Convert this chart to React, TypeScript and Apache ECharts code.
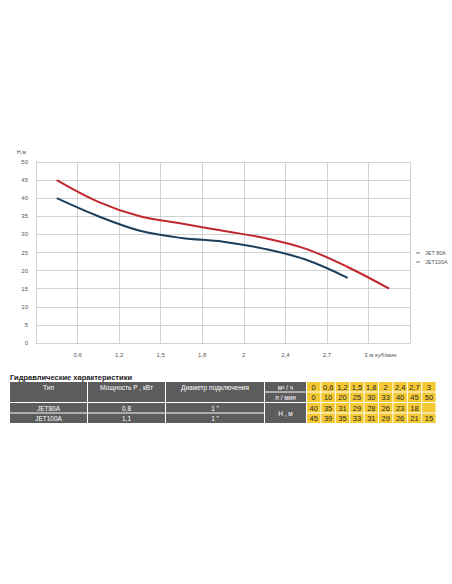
import React, { useEffect, useRef } from 'react';
import * as echarts from 'echarts';

const flowM3h = ['0', '0,6', '1,2', '1,5', '1,8', '2', '2,4', '2,7', '3'];
const flowLmin = ['0', '10', '20', '25', '30', '33', '40', '45', '50'];
const headJet80 = [40, 35, 31, 29, 28, 26, 23, 18];
const headJet100 = [45, 39, 35, 33, 31, 29, 26, 21, 15];
const seriesNames = ['JET 80A', 'JET100A'];
const models = ['JET80A', 'JET100A'];
const powers = ['0,8', '1,1'];
const diameters = ['1 "', '1 "'];
const headerCols = ['Тип', 'Мощность Р , кВт', 'Диаметр подключения'];
const rowLabels = ['м³ / ч', 'л / мин', 'Н , м'];
const tableTitle = 'Гидравлические характеристики';
const flowUnit = ' м куб/мин';
const yName = 'H,м';

const FONT = '"Liberation Sans Narrow","Liberation Sans",Arial,sans-serif';
const GRAY = '#5c5c5c';
const YELLOW = '#f3c832';

function buildTable(): any[] {
  const els: any[] = [];
  const colX = [10, 88, 166];
  const colW = [77, 77, 98];
  const labX = 265;
  const labW = 41;
  const cellX0 = 307;
  const cellW = 14.4;
  const rowY = [382, 392.5, 403, 413.5];
  const rowH = 9.5;
  const txt = (x: number, y: number, text: string, fill: string, size: number, bold = false) => ({
    type: 'text',
    x,
    y,
    style: { text, fill, fontSize: size, fontFamily: FONT, fontWeight: bold ? 'bold' : 'normal', align: 'center', verticalAlign: 'middle' },
  });
  els.push({
    type: 'text',
    x: 10,
    y: 377,
    style: { text: tableTitle, fill: '#222', fontSize: 7.5, fontFamily: FONT, fontWeight: 'bold', align: 'left', verticalAlign: 'middle' },
  });
  headerCols.forEach((h, i) => {
    const hh = rowY[1] + rowH - rowY[0];
    els.push({ type: 'rect', shape: { x: colX[i], y: rowY[0], width: colW[i], height: hh }, style: { fill: GRAY } });
    els.push(txt(colX[i] + colW[i] / 2, rowY[0] + 5, h, '#fff', 6.5));
  });
  models.forEach((m, r) => {
    const y = rowY[2 + r];
    const vals = [m, powers[r], diameters[r]];
    vals.forEach((v, i) => {
      els.push({ type: 'rect', shape: { x: colX[i], y, width: colW[i], height: rowH }, style: { fill: GRAY } });
      els.push(txt(colX[i] + colW[i] / 2, y + rowH / 2 + 0.5, v, '#fff', 6.5));
    });
  });
  els.push({ type: 'rect', shape: { x: labX, y: rowY[0], width: labW, height: rowH }, style: { fill: GRAY } });
  els.push(txt(labX + labW / 2, rowY[0] + rowH / 2 + 0.5, rowLabels[0], '#fff', 6.5));
  els.push({ type: 'rect', shape: { x: labX, y: rowY[1], width: labW, height: rowH }, style: { fill: GRAY } });
  els.push(txt(labX + labW / 2, rowY[1] + rowH / 2 + 0.5, rowLabels[1], '#fff', 6.5));
  const mh = rowY[3] + rowH - rowY[2];
  els.push({ type: 'rect', shape: { x: labX, y: rowY[2], width: labW, height: mh }, style: { fill: GRAY } });
  els.push(txt(labX + labW / 2, rowY[2] + mh / 2, rowLabels[2], '#fff', 6.5));
  const rows = [flowM3h, flowLmin, headJet80.map(String), headJet100.map(String)];
  rows.forEach((row, r) => {
    for (let c = 0; c < flowM3h.length; c++) {
      const x = cellX0 + c * cellW;
      els.push({ type: 'rect', shape: { x, y: rowY[r], width: cellW - 1, height: rowH }, style: { fill: YELLOW } });
      const v = row[c];
      if (v !== undefined) els.push(txt(x + (cellW - 1) / 2, rowY[r] + rowH / 2 + 0.5, v, '#2a2a2a', 7.5));
    }
  });
  return els;
}

export default function App() {
  const ref = useRef<HTMLDivElement>(null);
  useEffect(() => {
    if (!ref.current) return;
    const chart = echarts.init(ref.current, null, { renderer: 'svg' });
    const gridColor = '#d2d2d2';
    chart.setOption({
      animation: false,
      backgroundColor: '#fff',
      textStyle: { fontFamily: FONT },
      grid: { left: 36, right: 42, top: 162, bottom: 241, containLabel: false },
      legend: {
        orient: 'vertical',
        left: 411,
        top: 245,
        itemGap: 3,
        itemWidth: 4,
        itemHeight: 1,
        icon: 'rect',
        textStyle: { fontSize: 5.5, color: '#555', fontFamily: FONT },
        data: seriesNames.map((n) => ({ name: n, itemStyle: { color: '#777' } })),
      },
      xAxis: {
        type: 'value',
        min: 0,
        max: 9,
        interval: 1,
        axisLine: { show: true, lineStyle: { color: gridColor } },
        axisTick: { show: false },
        splitLine: { show: true, lineStyle: { color: gridColor, width: 1 } },
        axisLabel: {
          margin: 9,
          fontSize: 6,
          color: '#555',
          fontFamily: FONT,
          formatter: (v: number) => {
            if (v < 1 || v >= flowM3h.length) return '';
            if (v === flowM3h.length - 1) return '{u|' + flowM3h[v] + flowUnit + '}';
            return flowM3h[v];
          },
          rich: { u: { padding: [0, 0, 0, 24], fontSize: 6, color: '#555', fontFamily: FONT } },
        },
      },
      yAxis: {
        type: 'value',
        min: 0,
        max: 50,
        interval: 5,
        name: yName,
        nameLocation: 'end',
        nameGap: 10,
        nameTextStyle: { fontSize: 5.5, color: '#555', align: 'right', verticalAlign: 'middle', padding: [0, 10, 0, 0], fontFamily: FONT },
        axisLine: { show: true, lineStyle: { color: gridColor } },
        axisTick: { show: false },
        splitLine: { show: true, lineStyle: { color: gridColor, width: 1 } },
        axisLabel: { margin: 8, fontSize: 6, color: '#555', fontFamily: FONT },
      },
      series: [
        {
          name: seriesNames[0],
          type: 'line',
          smooth: 0.35,
          symbol: 'none',
          lineStyle: { color: '#1d3f5c', width: 2 },
          itemStyle: { color: '#1d3f5c' },
          data: headJet80.map((v, i) => [i + 0.5, v]),
          z: 3,
        },
        {
          name: seriesNames[1],
          type: 'line',
          smooth: 0.35,
          symbol: 'none',
          lineStyle: { color: '#c0282e', width: 2 },
          itemStyle: { color: '#c0282e' },
          data: headJet100.map((v, i) => [i + 0.5, v]),
          z: 2,
        },
      ],
      graphic: buildTable(),
    });
    return () => chart.dispose();
  }, []);
  return <div ref={ref} style={{ position: 'fixed', left: 0, top: 0, width: 452, height: 584, background: '#fff' }} />;
}
